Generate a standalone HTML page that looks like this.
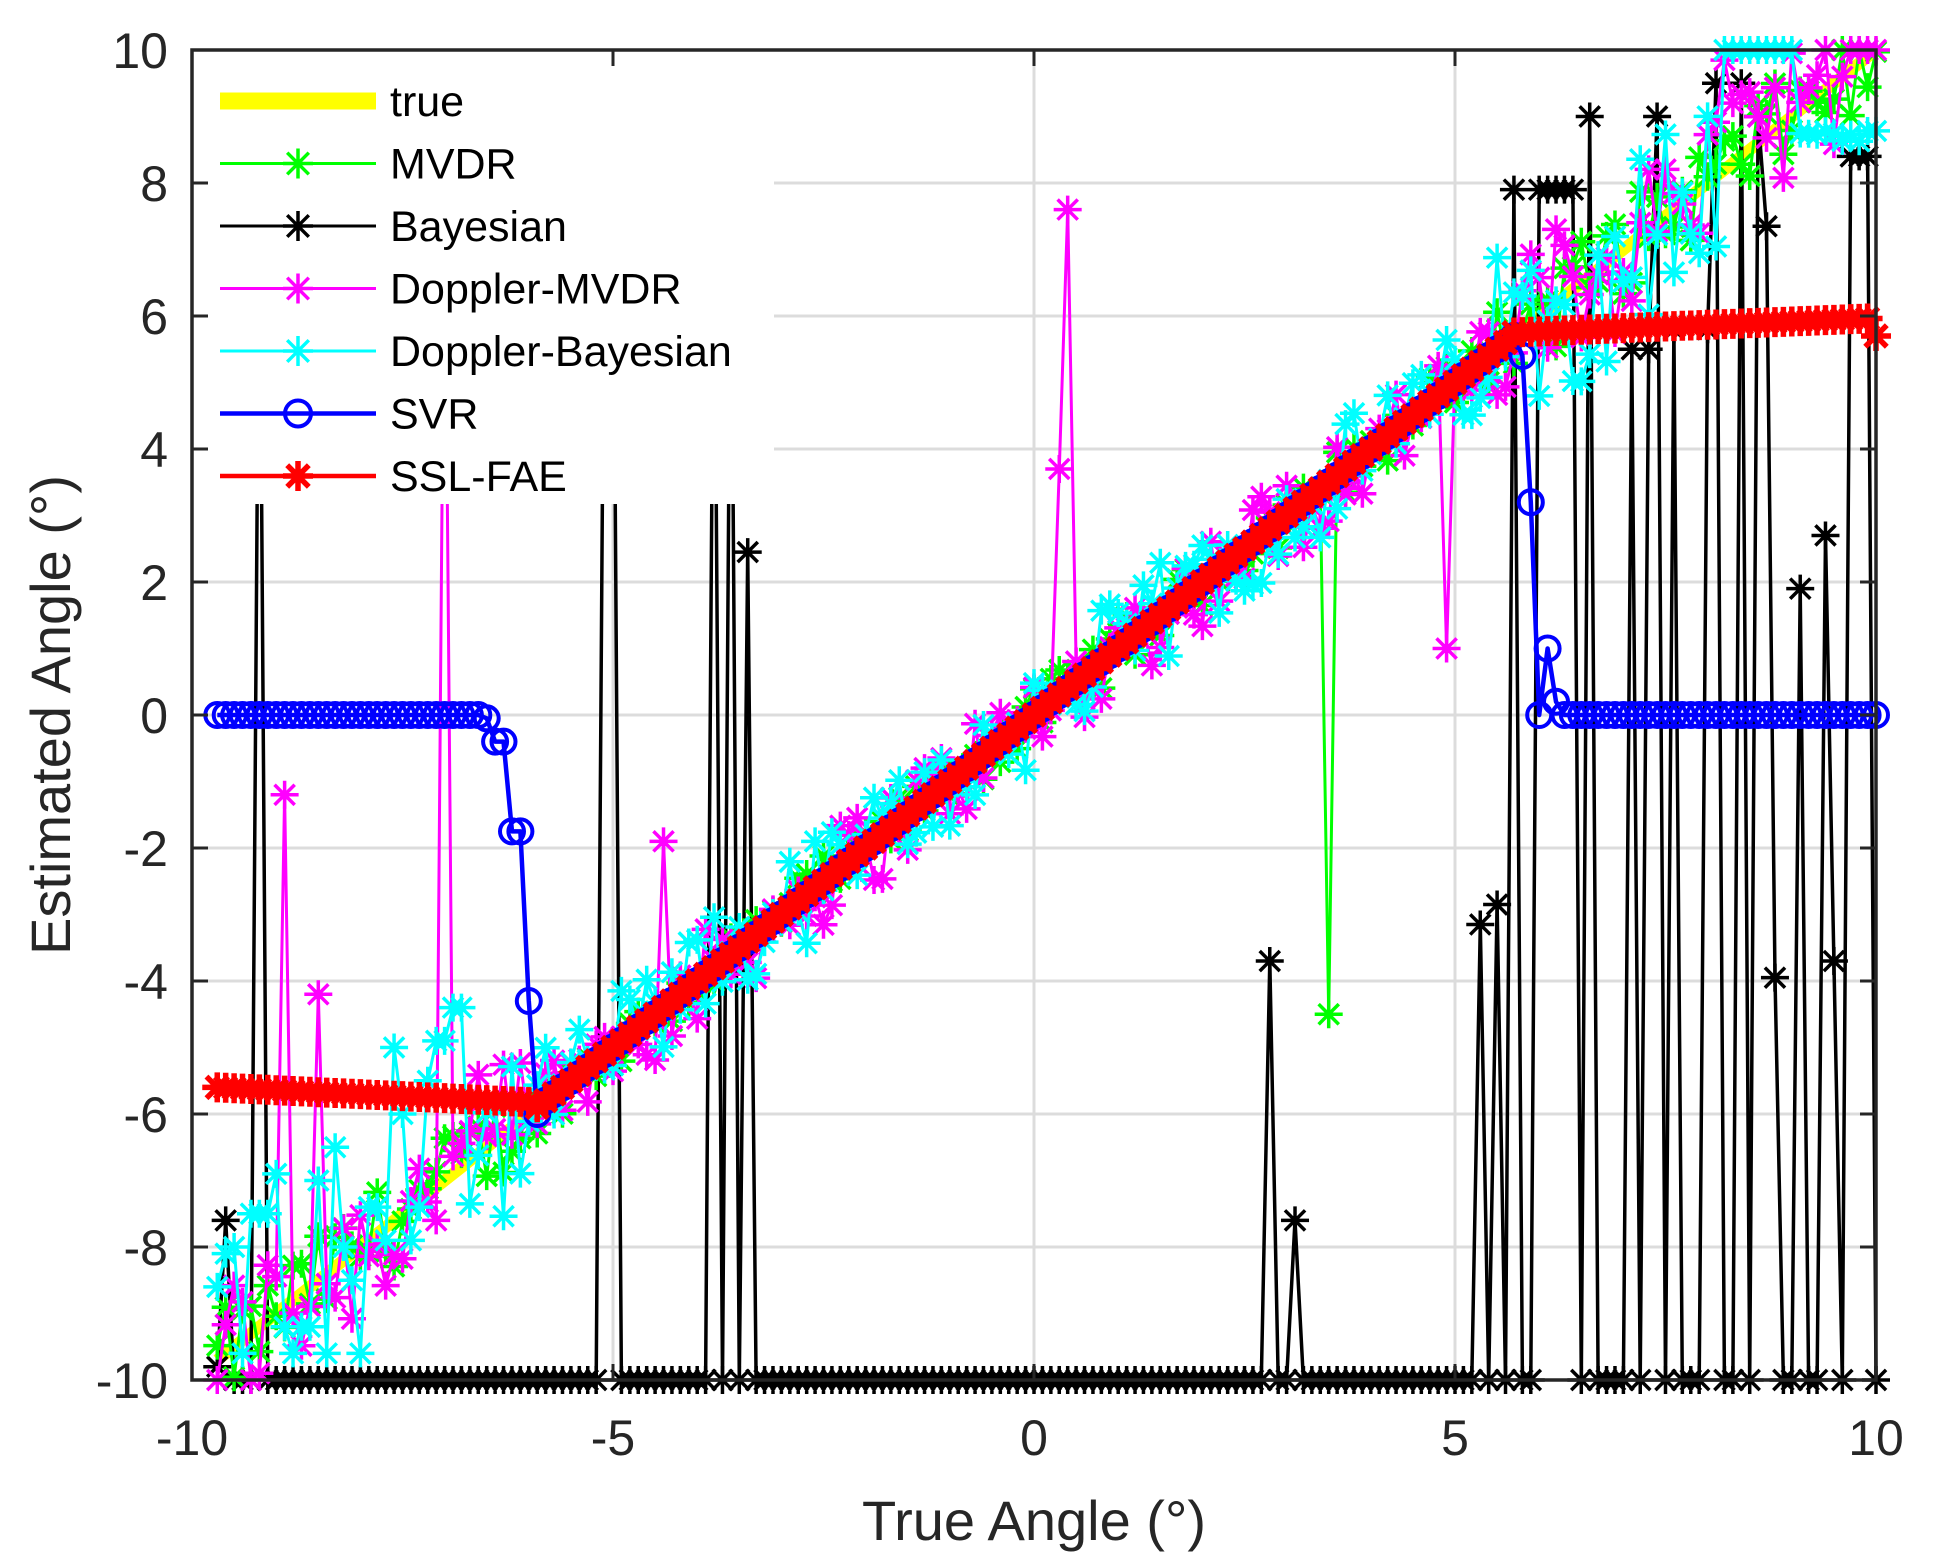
<!DOCTYPE html>
<html><head><meta charset="utf-8"><style>
html,body{margin:0;padding:0;background:#fff;}
svg{display:block}
text{font-family:"Liberation Sans",Arial,sans-serif;fill:#262626}
</style></head><body>
<svg id="s" width="1933" height="1560" xmlns="http://www.w3.org/2000/svg"></svg>
<script>
var S=document.getElementById('s');
var L=192,R=1876,T=50,B=1380;
function px(x){return L+(x+10)*(R-L)/20;}
function py(y){return T+(10-y)*(B-T)/20;}
var h='';
h+='<rect x="0" y="0" width="1933" height="1560" fill="#fff"/>';
h+='<defs><clipPath id="c"><rect x="'+L+'" y="'+(T-20)+'" width="'+(R-L+20)+'" height="'+(B-T+40)+'"/></clipPath></defs>';
for(var g=-8;g<=8;g+=2){h+='<line x1="'+L+'" x2="'+R+'" y1="'+py(g)+'" y2="'+py(g)+'" stroke="#dcdcdc" stroke-width="3"/>';}
for(var g=-5;g<=5;g+=5){h+='<line y1="'+T+'" y2="'+B+'" x1="'+px(g)+'" x2="'+px(g)+'" stroke="#dcdcdc" stroke-width="3"/>';}
var seed=12345;function rnd(){seed=(seed*1103515245+12345)%2147483648;return seed/2147483648;}
var xs=[];for(var i=0;i<=197;i++)xs.push(-9.7+i*0.1);
function cl(v){return Math.max(-10,Math.min(10,v));}
function star(x,y,s){var a='';var r=s/2;
 a+='M'+(x-r)+' '+y+'h'+s+'M'+x+' '+(y-r)+'v'+s;
 var d=r*0.72;a+='M'+(x-d)+' '+(y-d)+'L'+(x+d)+' '+(y+d)+'M'+(x-d)+' '+(y+d)+'L'+(x+d)+' '+(y-d);return a;}
function series(ys,col,lw,mk,ms,mlw){
 var p='',m='';
 for(var i=0;i<xs.length;i++){if(ys[i]==null)continue;var X=px(xs[i]),Y=py(ys[i]);p+=(p?'L':'M')+X.toFixed(1)+' '+Y.toFixed(1);
  if(mk=='*')m+=star(X,Y,ms);}
 var o='<path d="'+p+'" fill="none" stroke="'+col+'" stroke-width="'+lw+'" stroke-linejoin="round"/>';
 if(mk=='*')o+='<path d="'+m+'" stroke="'+col+'" stroke-width="'+mlw+'" fill="none"/>';
 if(mk=='o'){for(var i=0;i<xs.length;i++){o+='<circle cx="'+px(xs[i]).toFixed(1)+'" cy="'+py(ys[i]).toFixed(1)+'" r="'+ms+'" fill="none" stroke="'+col+'" stroke-width="'+mlw+'"/>';}}
 return o;}
h+='<g clip-path="url(#c)">';
h+='<path d="M'+px(-9.7)+' '+py(-9.7)+'L'+px(10)+' '+py(10)+'" stroke="#ffff00" stroke-width="12"/>';
var mv=[],dm=[],db=[],bay=[],svr=[],red=[];
for(var i=0;i<xs.length;i++){var x=xs[i];
 var n=(rnd()-0.5)*(x<-6||x>5.5?1.4:0.8);mv.push(cl(x+n));
 var n2=(rnd()-0.5)*(x<-6||x>5.5?2.4:1.4);dm.push(cl(x+n2));
 var n3=(rnd()-0.5)*(x<-6||x>5.5?3:1.6);db.push(cl(x+n3));
}
function near(v){var best=0,bd=9;for(var i=0;i<xs.length;i++){var d=Math.abs(xs[i]-v);if(d<bd){bd=d;best=i;}}return best;}
mv[near(3.5)]=-4.5;
dm[near(-8.9)]=-1.2;dm[near(-8.5)]=-4.2;dm[near(-7.0)]=8;dm[near(0.3)]=3.7;dm[near(0.4)]=7.6;dm[near(4.95)]=1.0;dm[near(-4.4)]=-1.9;
var cyl=[-8.6,-8.1,-8.0,-9.6,-7.5,-7.5,-7.5,-6.9,-9.2,-9.6,-9.2,-9.2,-7.0,-9.6,-6.5,-8.0,-8.5,-9.6,-7.4,-7.4,-7.9,-5.0,-6.0,-7.9,-7.4,-5.5,-4.9,-4.9,-4.4,-4.4];
for(var i=0;i<cyl.length;i++)db[i]=cyl[i];
for(var i=0;i<xs.length;i++){var x=xs[i];
 if(x>8.15&&x<9.1)db[i]=10; if(x>=9.1)db[i]=8.7+(rnd()-0.5)*0.2;
 if(x>8&&x<9.9&&rnd()<0.5)dm[i]=cl(x+(rnd()-0.3)*2.5);
}
for(var i=0;i<xs.length;i++){bay.push(-10);}
var bs=[[-9.7,-9.8],[-9.55,-7.6],[-9.2,8],[-5.1,8],[-4.95,8],[-3.75,8],[-3.55,8],[-3.35,2.45],[2.8,-3.7],[3.1,-7.6],[5.3,-3.15],[5.55,-2.85],[5.75,7.9],[6.05,7.9],[6.15,7.9],[6.25,7.9],[6.35,7.9],[6.45,7.9],[6.65,9],[7.15,5.5],[7.3,5.5],[7.6,5.8],[7.45,9],[8.0,5.8],[8.15,9.5],[8.4,9.5],[8.75,7.35],[8.85,-3.95],[8.65,9],[9.1,1.9],[9.4,2.7],[9.55,-3.7],[9.75,8.4],[9.85,8.4],[9.95,8.4]];
for(var k=0;k<bs.length;k++)bay[near(bs[k][0])]=bs[k][1];
for(var i=0;i<xs.length;i++){var x=xs[i],v;
 if(x<-6.5)v=0;else if(x<5.75)v=x;else v=0;
 svr.push(v);}
svr[near(-6.5)]=-0.05;svr[near(-6.4)]=-0.4;svr[near(-6.2)]=-1.75;svr[near(-6.0)]=-4.3;svr[near(-5.9)]=-6.0;svr[near(-6.3)]=-0.4;svr[near(-6.1)]=-1.75;
svr[near(5.8)]=5.4;svr[near(5.95)]=3.2;svr[near(6.1)]=1.0;svr[near(6.25)]=0.2;
for(var i=0;i<xs.length;i++){var x=xs[i],v;
 if(x<-5.9)v=-5.6-(x+9.7)*0.06;else if(x<5.65)v=x;else v=5.75+(x-5.65)*0.05;
 red.push(v);}
red[red.length-1]=5.7;
h+=series(bay,'#000',3.5,'*',28,3.5);
h+=series(mv,'#00ff00',3,'*',28,3.5);
h+=series(dm,'#ff00ff',3,'*',28,3.5);
h+=series(db,'#00ffff',3,'*',28,3.5);
h+=series(svr,'#0000ff',4.5,'o',12,4);
h+=series(red,'#ff0000',4.5,'*',30,5.5);
h+='</g>';
h+='<rect x="'+(L+2)+'" y="'+(T+2)+'" width="580" height="452" fill="#fff"/>';
var leg=[['true','#ffff00',''],['MVDR','#00ff00','*'],['Bayesian','#000','*'],['Doppler-MVDR','#ff00ff','*'],['Doppler-Bayesian','#00ffff','*'],['SVR','#0000ff','o'],['SSL-FAE','#ff0000','*']];
for(var k=0;k<leg.length;k++){var y=101+k*62.5;var c=leg[k][1];
 if(k==0)h+='<line x1="220" x2="376" y1="'+y+'" y2="'+y+'" stroke="'+c+'" stroke-width="17"/>';
 else{h+='<line x1="220" x2="376" y1="'+y+'" y2="'+y+'" stroke="'+c+'" stroke-width="'+(k>=5?4.5:3)+'"/>';
  if(leg[k][2]=='*')h+='<path d="'+star(298,y,30)+'" stroke="'+c+'" stroke-width="'+(k==6?5.5:3.5)+'"/>';
  else h+='<circle cx="298" cy="'+y+'" r="13" fill="none" stroke="'+c+'" stroke-width="4"/>';}
 h+='<text x="390" y="'+(y+15)+'" font-size="43" style="fill:#000">'+leg[k][0]+'</text>';}
h+='<rect x="'+L+'" y="'+T+'" width="'+(R-L)+'" height="'+(B-T)+'" fill="none" stroke="#262626" stroke-width="3.5"/>';
for(var g=-10;g<=10;g+=2){var Y=py(g);h+='<line x1="'+L+'" x2="'+(L+16)+'" y1="'+Y+'" y2="'+Y+'" stroke="#262626" stroke-width="3"/><line x1="'+R+'" x2="'+(R-16)+'" y1="'+Y+'" y2="'+Y+'" stroke="#262626" stroke-width="3"/>';
 h+='<text x="168" y="'+(Y+18)+'" font-size="50" text-anchor="end">'+g+'</text>';}
for(var g=-10;g<=10;g+=5){var X=px(g);h+='<line x1="'+X+'" x2="'+X+'" y1="'+B+'" y2="'+(B-16)+'" stroke="#262626" stroke-width="3"/><line x1="'+X+'" x2="'+X+'" y1="'+T+'" y2="'+(T+16)+'" stroke="#262626" stroke-width="3"/>';
 h+='<text x="'+X+'" y="'+(1455)+'" font-size="50" text-anchor="middle">'+g+'</text>';}
h+='<text x="'+((L+R)/2)+'" y="1540" font-size="56" text-anchor="middle">True Angle (°)</text>';
h+='<text transform="translate(70,'+((T+B)/2)+') rotate(-90)" font-size="56" text-anchor="middle">Estimated Angle (°)</text>';
S.innerHTML=h;
</script>
</body></html>
